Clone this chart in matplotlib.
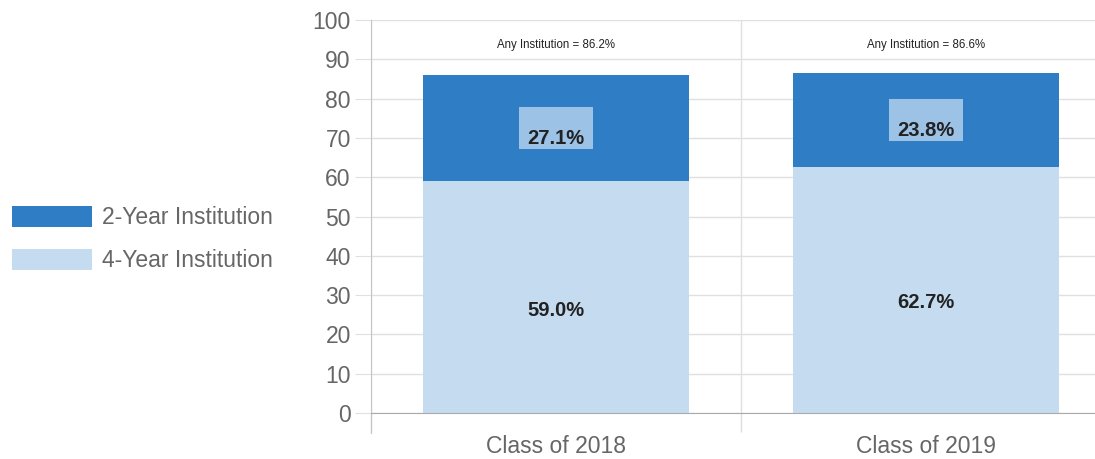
import matplotlib.pyplot as plt
import numpy as np
from matplotlib.patches import Rectangle, Patch

# data
classes = ['Class of 2018', 'Class of 2019']
four_year = [59.0, 62.7]
two_year = [27.1, 23.8]
any_inst = [86.2, 86.6]

c_dark = '#2f7dc4'
c_light = '#c5dcf0'
c_box = '#9cc2e5'
grey = '#666666'

plt.rcParams['font.family'] = ['Liberation Sans', 'DejaVu Sans']

fig = plt.figure(figsize=(10.95, 4.59), dpi=100)
ax = fig.add_axes([371/1095, 1-413/459, 740/1095, 393/459])

x = np.arange(len(classes))
w = 0.72
ax.bar(x, four_year, width=w, color=c_light, zorder=2)
ax.bar(x, two_year, width=w, bottom=four_year, color=c_dark, zorder=2)

for i in range(len(classes)):
    # 4-year label
    mid = four_year[i] / 2
    ax.text(x[i], mid - 3.3, f'{four_year[i]:.1f}%', ha='center', va='center',
            fontsize=14.5, fontweight='bold', color='#222222', zorder=4)
    # 2-year label with lighter box
    mid = four_year[i] + two_year[i] / 2
    ax.add_patch(Rectangle((x[i] - 0.1, mid - 5.4), 0.2, 10.8, facecolor=c_box,
                           edgecolor='none', zorder=3))
    ax.text(x[i], mid - 2.6, f'{two_year[i]:.1f}%', ha='center', va='center',
            fontsize=14.5, fontweight='bold', color='#222222', zorder=4)
    # total on top
    ax.text(x[i], 93.6, f'Any Institution = {any_inst[i]}%', ha='center', va='center',
            fontsize=8.3, color='#222222', zorder=4)

ax.set_xlim(-0.5, 1.5)
ax.set_ylim(0, 100)
ax.set_yticks(np.arange(0, 101, 10))
ax.set_xticks(x)
ax.set_xticklabels(classes)
ax.set_xticks([-0.5, 0.5, 1.5], minor=True)

ax.grid(axis='y', color='#e0e0e0', linewidth=1, zorder=0)
ax.grid(axis='x', which='minor', color='#e0e0e0', linewidth=1, zorder=0)
ax.tick_params(axis='y', length=11.5, color='#e0e0e0', labelsize=16.5, labelcolor=grey, pad=3)
ax.tick_params(axis='x', which='major', length=0, labelsize=16.5, labelcolor=grey, pad=16)
ax.tick_params(axis='x', which='minor', length=14, color='#dddddd', width=1)

for s in ['top', 'right']:
    ax.spines[s].set_visible(False)
ax.spines['left'].set_color('#c4c4c4')
ax.spines['left'].set_bounds(-5.1, 100)
ax.spines['bottom'].set_color('#aaaaaa')
ax.spines['bottom'].set_zorder(5)

handles = [Patch(facecolor=c_dark, label='2-Year Institution'),
           Patch(facecolor=c_light, label='4-Year Institution')]
fig.legend(handles=handles, loc='center left', bbox_to_anchor=(-0.004, 1 - 239/459),
           frameon=False, fontsize=16.5, labelcolor=grey, handlelength=3.5,
           handleheight=1.05, handletextpad=0.45, labelspacing=0.85, borderpad=0.2)

fig.savefig('out.png', dpi=100)
